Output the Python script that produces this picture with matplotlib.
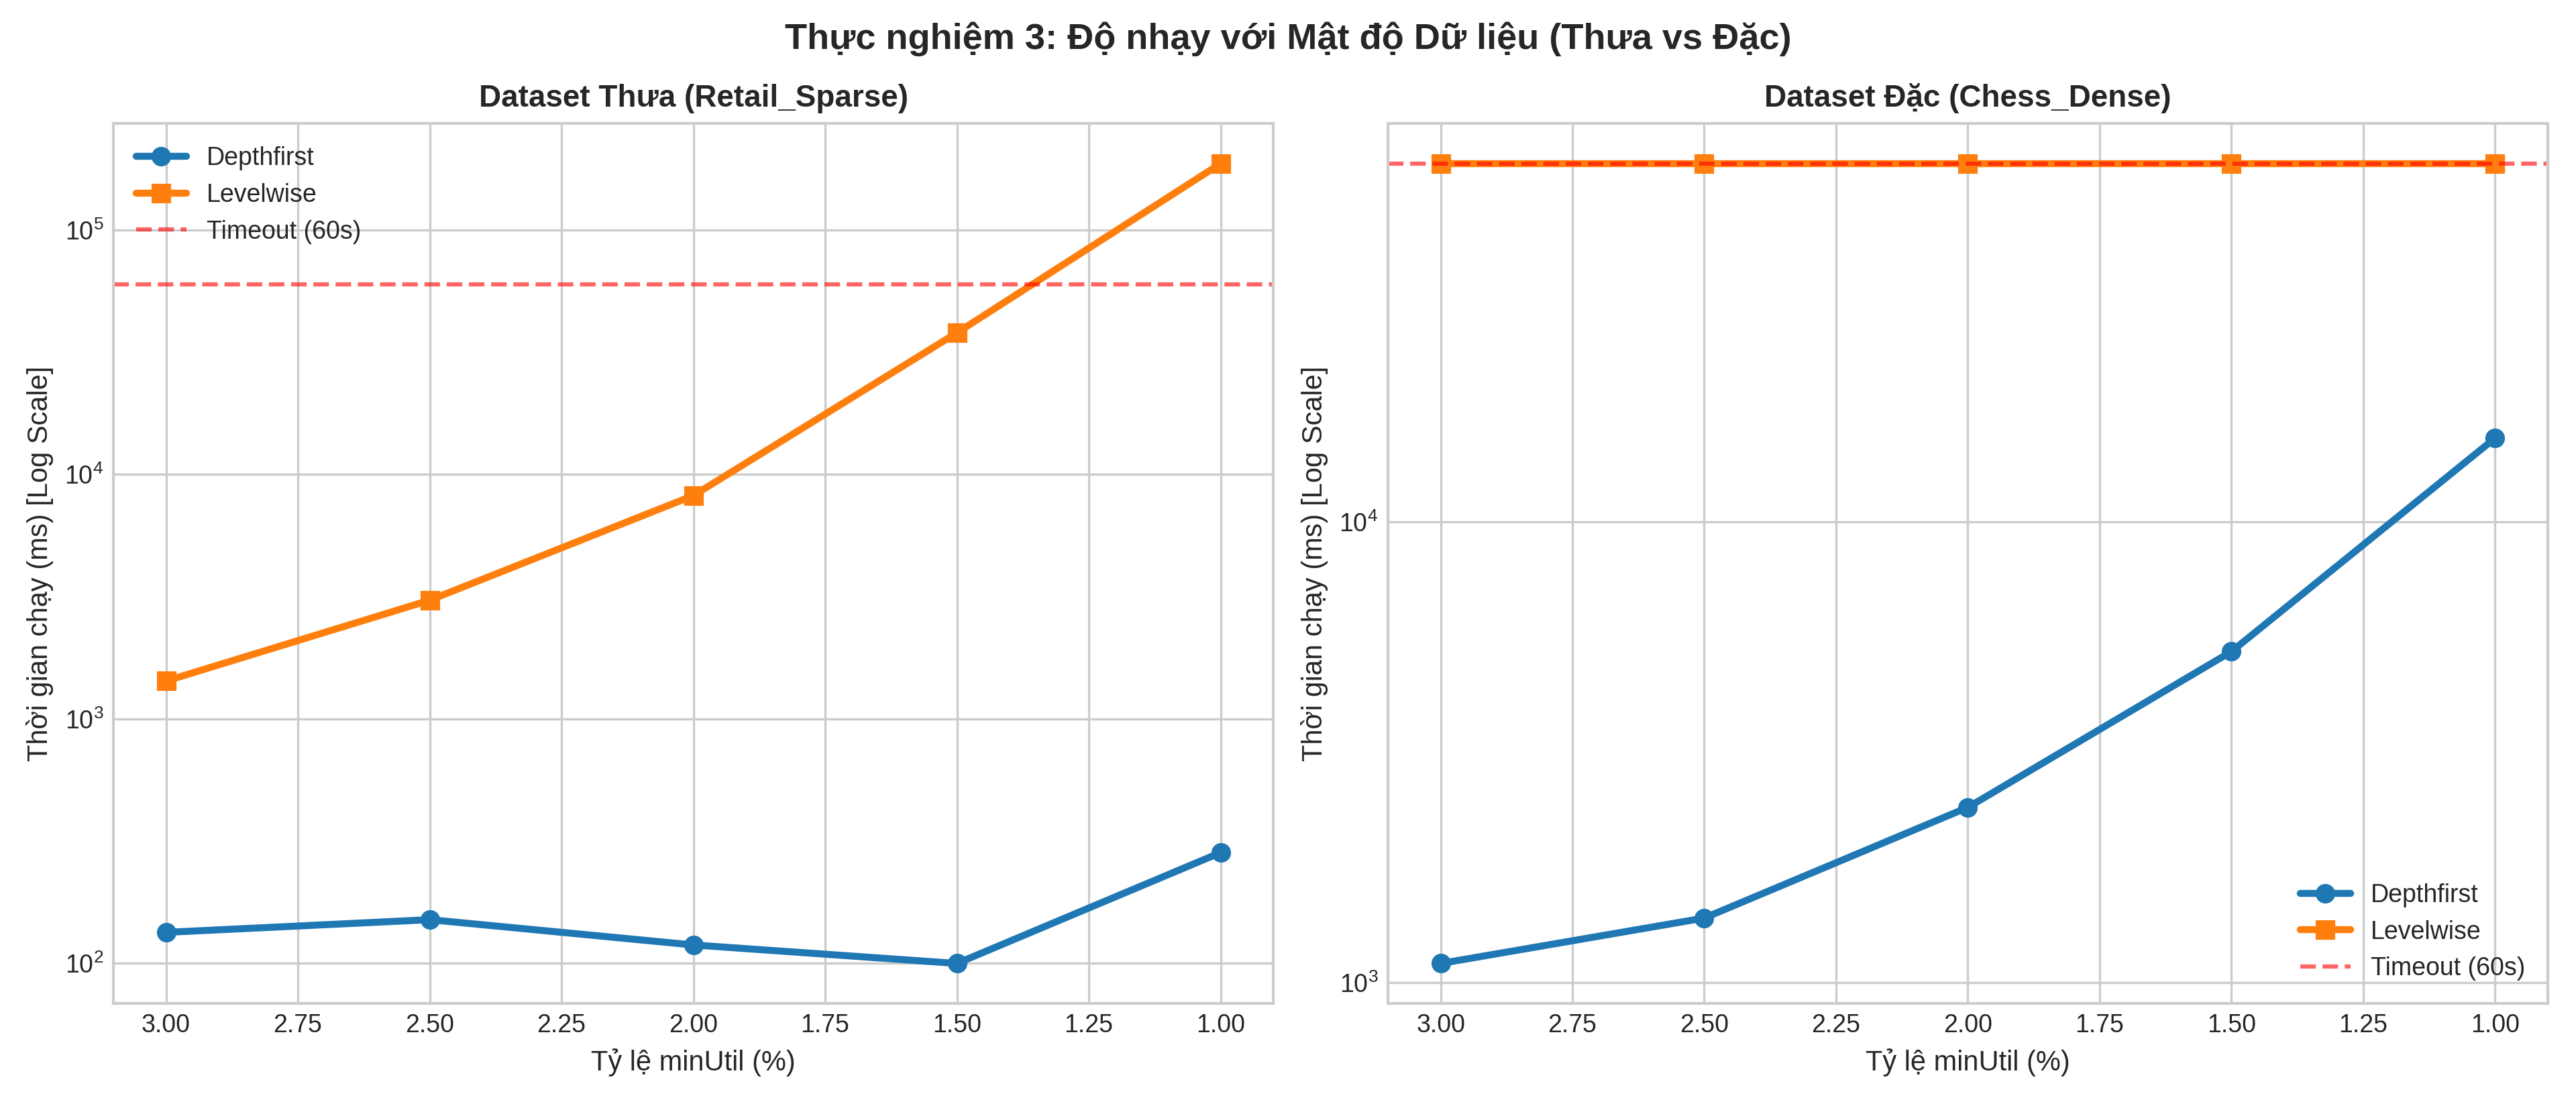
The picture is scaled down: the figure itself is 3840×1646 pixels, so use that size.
import matplotlib.pyplot as plt

plt.style.use("seaborn-v0_8-whitegrid")
plt.rcParams["font.family"] = ["Liberation Sans", "DejaVu Sans"]

min_util = [3.0, 2.5, 2.0, 1.5, 1.0]

# Retail_Sparse (ms)
sparse_depthfirst = [134, 151, 119, 100, 284]
sparse_levelwise = [1430, 3060, 8200, 38000, 187000]

# Chess_Dense (ms)
dense_depthfirst = [1100, 1380, 2400, 5230, 15200]
dense_levelwise = [60000, 60000, 60000, 60000, 60000]

timeout_ms = 60000

fig = plt.figure(figsize=(12.8, 5.487), dpi=300)
ax1 = fig.add_axes([0.044, 0.0911, 0.4503, 0.7969])
ax2 = fig.add_axes([0.5388, 0.0911, 0.4502, 0.7969])

panels = [
    (ax1, "Dataset Thưa (Retail_Sparse)", sparse_depthfirst, sparse_levelwise, "upper left"),
    (ax2, "Dataset Đặc (Chess_Dense)", dense_depthfirst, dense_levelwise, "lower right"),
]

for ax, title, df, lw, loc in panels:
    ax.plot(min_util, df, marker="o", color="#1f77b4", linewidth=2.5,
            markersize=6, label="Depthfirst")
    ax.plot(min_util, lw, marker="s", color="#ff7f0e", linewidth=2.5,
            markersize=6, label="Levelwise")
    ax.axhline(timeout_ms, color="red", linestyle="--", alpha=0.6,
               linewidth=1.5, label="Timeout (60s)")
    ax.set_yscale("log")
    ax.invert_xaxis()
    ax.set_xticks([3.0, 2.75, 2.5, 2.25, 2.0, 1.75, 1.5, 1.25, 1.0])
    ax.set_xticklabels(["3.00", "2.75", "2.50", "2.25", "2.00", "1.75", "1.50", "1.25", "1.00"])
    ax.set_title(title, fontsize=11, fontweight="bold")
    ax.set_xlabel("Tỷ lệ minUtil (%)", fontsize=10)
    ax.set_ylabel("Thời gian chạy (ms) [Log Scale]", fontsize=10)
    ax.tick_params(labelsize=9)
    ax.legend(loc=loc, fontsize=9)
    for s in ax.spines.values():
        s.set_visible(True)
        s.set_color("#cccccc")

fig.suptitle("Thực nghiệm 3: Độ nhạy với Mật độ Dữ liệu (Thưa vs Đặc)",
             fontsize=13, fontweight="bold", y=0.98)

plt.savefig("out.png", dpi=300)
